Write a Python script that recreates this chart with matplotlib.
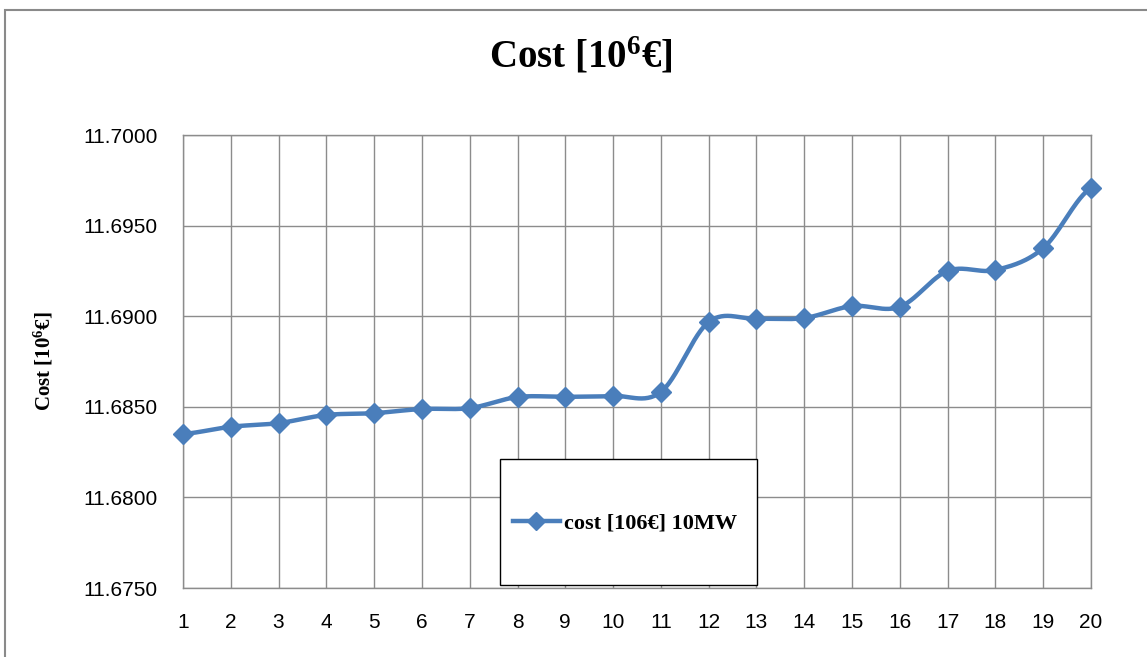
import numpy as np
import matplotlib
matplotlib.use("Agg")
import matplotlib.pyplot as plt
from matplotlib.patches import Rectangle

# values
scenario = list(range(1, 21))
cost = [11.6835, 11.6839, 11.6841, 11.68455, 11.68465, 11.68488, 11.68493,
        11.68554, 11.68555, 11.68560, 11.68582, 11.68968, 11.68985, 11.6899,
        11.69056, 11.69052, 11.6925, 11.69255, 11.69376, 11.69708]
y_ticks = [11.675, 11.680, 11.685, 11.690, 11.695, 11.700]

LINE = "#4A7EBB"
GRID = "#8C8C8C"

plt.rcParams["mathtext.fontset"] = "custom"
plt.rcParams["mathtext.rm"] = "Liberation Serif:bold"
plt.rcParams["mathtext.bf"] = "Liberation Serif:bold"
plt.rcParams["mathtext.it"] = "Liberation Serif:bold"
plt.rcParams["mathtext.default"] = "rm"


def smooth(x, y, n=30):
    # Catmull-Rom style smoothing, like Excel's "smoothed line"
    x = np.asarray(x, float)
    y = np.asarray(y, float)
    xs, ys = [], []
    for i in range(len(x) - 1):
        y0 = y[i - 1] if i > 0 else y[i]
        y3 = y[i + 2] if i + 2 < len(y) else y[i + 1]
        m1 = (y[i + 1] - y0) / 2
        m2 = (y3 - y[i]) / 2
        t = np.linspace(0, 1, n, endpoint=False)
        h00 = 2 * t**3 - 3 * t**2 + 1
        h10 = t**3 - 2 * t**2 + t
        h01 = -2 * t**3 + 3 * t**2
        h11 = t**3 - t**2
        xs.append(x[i] + t * (x[i + 1] - x[i]))
        ys.append(h00 * y[i] + h10 * m1 + h01 * y[i + 1] + h11 * m2)
    xs.append([x[-1]])
    ys.append([y[-1]])
    return np.concatenate(xs), np.concatenate(ys)


fig = plt.figure(figsize=(11.47, 6.57), dpi=100)
fig.patches.append(Rectangle((0.004, -0.1), 1.2, 1.085, transform=fig.transFigure,
                             fill=False, edgecolor="#8A8A8A", linewidth=1.5))

ax = fig.add_axes([0.1595, 0.105, 0.7917, 0.6895])
sx, sy = smooth(scenario, cost)
ax.plot(sx, sy, color=LINE, linewidth=3.2, solid_capstyle="round", zorder=3, clip_on=False)
ax.plot(scenario, cost, linestyle="none", marker="D", markersize=10,
        color=LINE, zorder=4, clip_on=False)

ax.set_xlim(1, 20)
ax.set_ylim(11.675, 11.700)
ax.set_xticks(scenario)
ax.set_yticks(y_ticks)
ax.set_yticklabels([f"{v:.4f}" for v in y_ticks])
ax.grid(True, color=GRID, linewidth=1)
for s in ax.spines.values():
    s.set_color(GRID)
    s.set_linewidth(1)
ax.tick_params(axis="both", length=0, labelsize=15, colors="black")
ax.tick_params(axis="x", pad=18)
ax.tick_params(axis="y", pad=18)
for lbl in ax.get_xticklabels() + ax.get_yticklabels():
    lbl.set_fontfamily("Liberation Sans")

fig.text(0.506, 0.915, "Cost [10$^{6}$€]", ha="center", va="center",
         fontsize=28, fontweight="bold", family="Liberation Serif")
fig.text(0.038, 0.45, "Cost [10$^{6}$€]", ha="center", va="center", rotation=90,
         fontsize=15, fontweight="bold", family="Liberation Serif")

# legend box drawn separately, legend entry placed inside it
box = Rectangle((500 / 1147, 1 - 585 / 657), 257 / 1147, 126 / 657, transform=fig.transFigure,
                facecolor="white", edgecolor="black", linewidth=1, zorder=5)
ax.add_artist(box)
box.set_clip_on(False)
leg = ax.legend([plt.Line2D([], [], color=LINE, linewidth=3.2, marker="D", markersize=9)],
                ["cost [106€] 10MW"], loc="center left",
                bbox_to_anchor=(513 / 1147, 1 - 523 / 657),
                bbox_transform=fig.transFigure, borderaxespad=0, borderpad=0,
                frameon=False, handlelength=2.1, handletextpad=0.2,
                prop={"family": "Liberation Serif", "weight": "bold", "size": 16})
leg.set_zorder(6)

fig.savefig("out.png", dpi=100, facecolor="white")
